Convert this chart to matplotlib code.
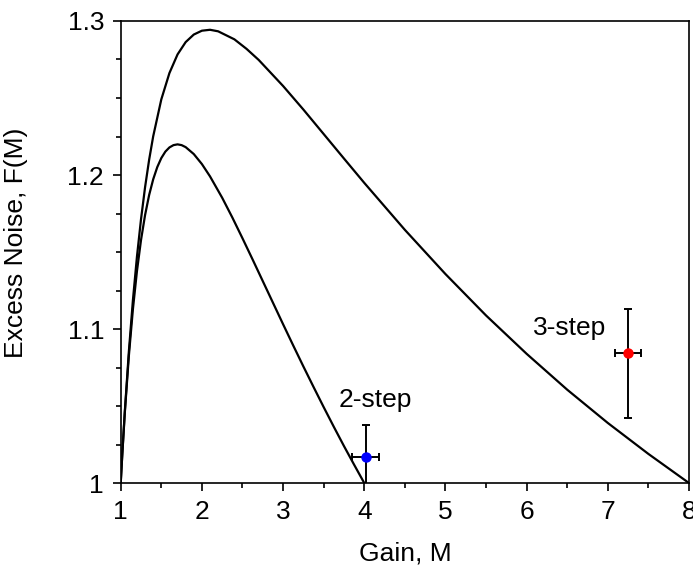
import numpy as np
import matplotlib
matplotlib.use('Agg')
import matplotlib.pyplot as plt
from matplotlib.ticker import MultipleLocator, FixedLocator, FixedFormatter

plt.rcParams['font.family'] = ['Liberation Sans', 'DejaVu Sans']

# theoretical excess noise curves for the staircase devices
gain_2step = [1.0, 1.01, 1.02, 1.05, 1.1, 1.15, 1.2, 1.25, 1.3, 1.35, 1.4,
              1.45, 1.5, 1.55, 1.6, 1.65, 1.7, 1.75, 1.8, 1.9, 2.0, 2.1,
              2.25, 2.375, 2.5, 2.625, 2.75, 2.875, 3.0, 3.125, 3.25, 3.375,
              3.5, 3.625, 3.75, 3.875, 4.0]
noise_2step = [1.0, 1.0098, 1.0192, 1.0453, 1.0824, 1.1128, 1.1376, 1.1578,
               1.1740, 1.1870, 1.1972, 1.2051, 1.2110, 1.2152, 1.2179, 1.2194,
               1.2199, 1.2194, 1.2181, 1.2136, 1.2071, 1.1991, 1.1852, 1.1724,
               1.1589, 1.1451, 1.1311, 1.1171, 1.1031, 1.0893, 1.0757, 1.0624,
               1.0493, 1.0365, 1.0240, 1.0119, 1.0]

gain_3step = [1.0, 1.01, 1.02, 1.05, 1.1, 1.15, 1.2, 1.25, 1.3, 1.35, 1.4,
              1.5, 1.6, 1.7, 1.8, 1.9, 2.0, 2.1, 2.2, 2.4, 2.55, 2.7, 3.0,
              3.25, 3.5, 3.75, 4.0, 4.5, 5.0, 5.5, 6.0, 6.5, 7.0, 7.5, 8.0]
noise_3step = [1.0, 1.0098, 1.0194, 1.0461, 1.0852, 1.1186, 1.1470, 1.1713,
               1.1921, 1.2099, 1.2251, 1.2491, 1.2662, 1.2783, 1.2863, 1.2912,
               1.2937, 1.2943, 1.2933, 1.2881, 1.2819, 1.2747, 1.2578, 1.2425,
               1.2266, 1.2107, 1.1949, 1.1644, 1.1357, 1.1088, 1.0839, 1.0606,
               1.0390, 1.0189, 1.0]

# measured points
meas_labels = ['2-step', '3-step']
meas_gain = [4.02, 7.245]
meas_gain_err = [0.165, 0.16]
meas_noise = [1.0171, 1.0846]
meas_noise_lo = [0.0206, 0.0426]
meas_noise_hi = [0.0206, 0.0282]
meas_colors = ['#0000ff', '#ff0000']
label_pos = [(4.13, 1.054), (6.53, 1.1005)]

fig = plt.figure(figsize=(6.93, 5.69), dpi=100)
ax = fig.add_axes([0.1742, 0.1511, 0.8200, 0.8120])

ax.plot(gain_2step, noise_2step, color='black', lw=1.6)
ax.plot(gain_3step, noise_3step, color='black', lw=1.6)

for i in range(len(meas_gain)):
    ax.errorbar(meas_gain[i], meas_noise[i], xerr=meas_gain_err[i],
                yerr=[[meas_noise_lo[i]], [meas_noise_hi[i]]], fmt='o',
                color=meas_colors[i], ms=6.5, ecolor='black', elinewidth=1.4,
                capsize=2.6, capthick=1.4, zorder=3)
    ax.text(label_pos[i][0], label_pos[i][1], meas_labels[i], fontsize=19,
            ha='center', va='center')

ax.set_xlim(1, 8)
ax.set_ylim(1, 1.3)
ax.xaxis.set_major_locator(MultipleLocator(1))
ax.xaxis.set_minor_locator(MultipleLocator(0.5))
ax.yaxis.set_major_locator(FixedLocator([1.0, 1.1, 1.2, 1.3]))
ax.yaxis.set_major_formatter(FixedFormatter(['1', '1.1', '1.2', '1.3']))
ax.yaxis.set_minor_locator(MultipleLocator(0.025))

ax.tick_params(which='both', direction='out', top=False, right=False,
               width=1.2, labelsize=19)
ax.tick_params(which='major', length=6, pad=6)
ax.tick_params(which='minor', length=3.5)
for s in ax.spines.values():
    s.set_linewidth(1.2)

ax.set_xlabel('Gain, M', fontsize=19)
ax.set_ylabel('Excess Noise, F(M)', fontsize=19)
ax.xaxis.set_label_coords(0.5, -0.152)
ax.yaxis.set_label_coords(-0.184, 0.519)
ax.xaxis.label.set_va('center')
ax.yaxis.label.set_va('center')

fig.savefig('out.png', dpi=100)
